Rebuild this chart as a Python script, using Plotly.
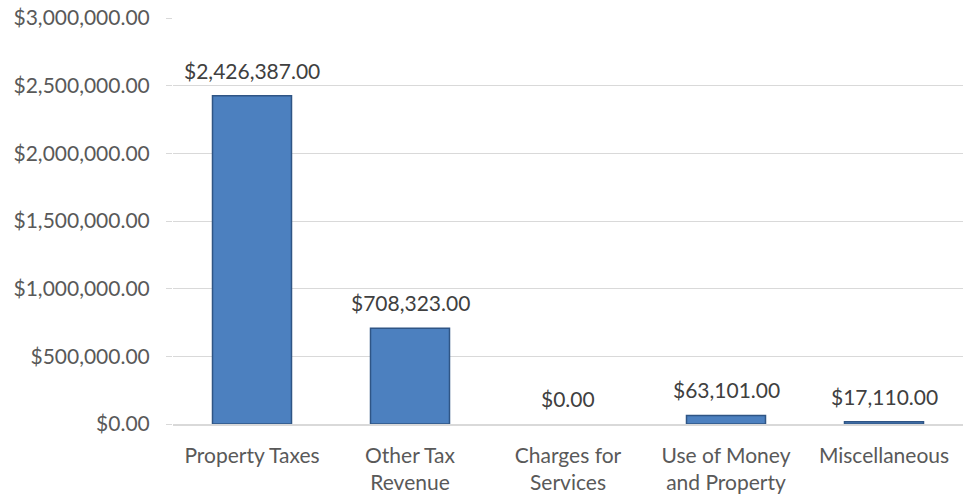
import plotly.graph_objects as go

categories = ["Property Taxes", "Other Tax<br>Revenue", "Charges for<br>Services", "Use of Money<br>and Property", "Miscellaneous"]
values = [2426387.00, 708323.00, 0.00, 63101.00, 17110.00]
tick_values = [0, 500000, 1000000, 1500000, 2000000, 2500000, 3000000]
tick_labels = ["$" + format(v, ",.2f") for v in tick_values]

font_family = "Lato, Open Sans, sans-serif"

fig = go.Figure()
fig.add_trace(go.Bar(
    x=categories,
    y=values,
    marker=dict(color="#4c80bf",
                line=dict(color="#2f5585", width=[1.5 if v > 0 else 0 for v in values])),
    hoverinfo="x+y",
))

for c, v in zip(categories, values):
    fig.add_annotation(
        x=c, y=v, text="$" + format(v, ",.2f"),
        showarrow=False, yanchor="bottom", yshift=11,
        font=dict(family=font_family, size=21, color="#404040"),
    )

fig.update_layout(
    width=963, height=499,
    margin=dict(l=173, r=0, t=18, b=75, autoexpand=False),
    paper_bgcolor="white", plot_bgcolor="white",
    bargap=0.5,
    showlegend=False,
    font=dict(family=font_family, size=21, color="#595959"),
)
fig.update_yaxes(
    range=[0, 3000000], tickvals=tick_values, ticktext=tick_labels,
    showgrid=True, gridcolor="#d9d9d9", gridwidth=1,
    ticks="outside", ticklen=6, tickcolor="#d9d9d9",
    ticklabelstandoff=12,
    zeroline=False, showline=False, automargin=False,
    tickfont=dict(family=font_family, size=21, color="#595959"),
)
fig.update_xaxes(
    showline=True, linecolor="#d9d9d9", linewidth=1.5,
    ticklabelstandoff=12, automargin=False,
    tickfont=dict(family=font_family, size=21, color="#595959"),
)

fig.write_html("out.html", config={"displayModeBar": False},
               post_script="document.body.style.margin='0';")
